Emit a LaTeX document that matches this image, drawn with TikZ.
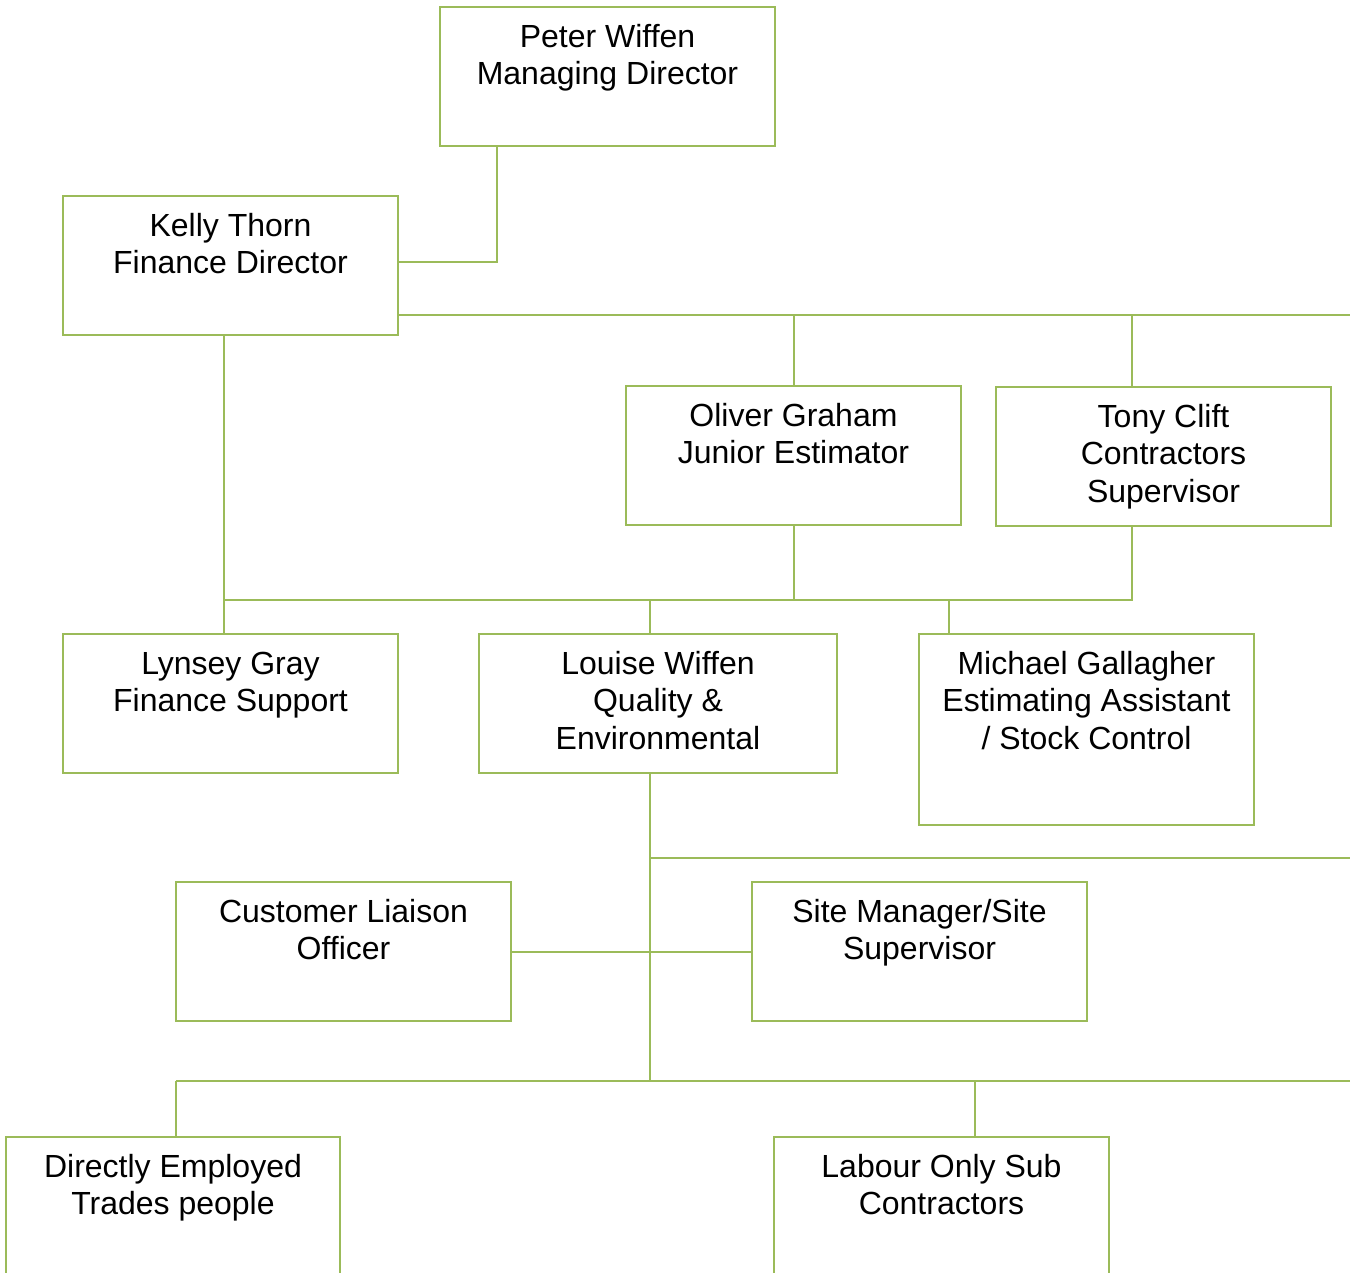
\documentclass[tikz,border=0pt]{standalone}
\usepackage{fontspec}
\setmainfont{Liberation Sans}
\usepackage{tikz}
\usetikzlibrary{positioning}
\definecolor{orggreen}{HTML}{9BBB59}
\tikzset{
  post/.style = {rectangle, draw=orggreen, line width=0.75pt, fill=white,
    minimum width=125.6pt, minimum height=52.1pt, inner sep=0pt},% one box per person
  who/.style = {align=center, anchor=north, inner sep=0pt,
    font=\fontsize{12pt}{13.9pt}\selectfont},% name and role
  link/.style = {draw=orggreen, line width=0.75pt}
}
\begin{document}
\begin{tikzpicture}[x=0.375pt,y=-0.375pt]
        \useasboundingbox (0,0) rectangle (1350,1273);
        % boxes
        \node [post] (peter) at (607.5,76.5) {};
        \node [post] (kelly) at (230.5,265.5) {};
        \node [post] (oliver) at (793.5,455.5) {};
        \node [post] (tony) at (1163.5,456.5) {};
        \node [post] (lynsey) at (230.5,703.5) {};
        \node [post, minimum width=134.3pt] (louise) at (658,703.5) {};
        \node [post, minimum height=71.6pt] (michael) at (1086.5,729.5) {};
        \node [post] (customer) at (343.5,951.5) {};
        \node [post] (site) at (919.5,951.5) {};
        \node [post] (direct) at (173,1206.5) {};
        \node [post] (labour) at (941.5,1206.5) {};
        % texts
        \node [who] (peterT) at ([yshift=-6.8pt]peter.north) {Peter Wiffen\\Managing Director};
        \node [who] (kellyT) at ([yshift=-6.8pt]kelly.north) {Kelly Thorn\\Finance Director};
        \node [who] (oliverT) at ([yshift=-6.8pt]oliver.north) {Oliver Graham\\Junior Estimator};
        \node [who] (tonyT) at ([yshift=-6.8pt]tony.north) {Tony Clift\\Contractors\\Supervisor};
        \node [who] (lynseyT) at ([yshift=-6.8pt]lynsey.north) {Lynsey Gray\\Finance Support};
        \node [who] (louiseT) at ([yshift=-6.8pt]louise.north) {Louise Wiffen\\Quality \&\\Environmental};
        \node [who] (michaelT) at ([yshift=-6.8pt]michael.north) {Michael Gallagher\\Estimating Assistant\\/ Stock Control};
        \node [who] (customerT) at ([yshift=-6.8pt]customer.north) {Customer Liaison\\Officer};
        \node [who] (siteT) at ([yshift=-6.8pt]site.north) {Site Manager/Site\\Supervisor};
        \node [who] (directT) at ([yshift=-6.8pt]direct.north) {Directly Employed\\Trades people};
        \node [who] (labourT) at ([yshift=-6.8pt]labour.north) {Labour Only Sub\\Contractors};
        % junctions
        \coordinate (pk) at (497,262);
        \coordinate (b1) at (1350,315);
        \coordinate (tc) at (1132,600);
        \coordinate (lk) at (224,600);
        \coordinate (lw) at (650,600);
        \coordinate (mg) at (949,600);
        \coordinate (b3) at (1350,858);
        \coordinate (b4) at (1350,1081);
        \coordinate (de) at (176,1081);
        \coordinate (lo) at (975,1081);
        % connectors
        \draw [link] (peter.south -| pk) |- (kelly.east |- pk);
        \draw [link] (kelly.east |- b1) -- (b1);
        \draw [link] (oliver.north) -- (oliver.north |- b1);
        \draw [link] (tony.north -| tc) -- (tc |- b1);
        \draw [link] (kelly.south -| lk) -- (lynsey.north -| lk);
        \draw [link] (lk) -- (tc) -- (tony.south -| tc);
        \draw [link] (oliver.south) -- (oliver.south |- tc);
        \draw [link] (lw) -- (louise.north -| lw);
        \draw [link] (mg) -- (michael.north -| mg);
        \draw [link] (louise.south -| lw) -- (lw |- b4);
        \draw [link] (lw |- b3) -- (b3);
        \draw [link] (customer.east) -- (site.west);
        \draw [link] (de) -- (b4);
        \draw [link] (de) -- (direct.north -| de);
        \draw [link] (lo) -- (labour.north -| lo);
\end{tikzpicture}
\end{document}
